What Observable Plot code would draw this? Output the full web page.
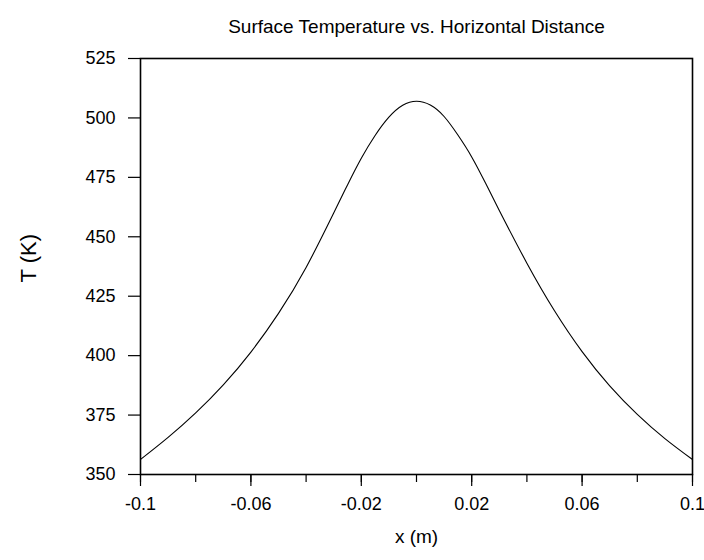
<!DOCTYPE html>
<html>
<head>
<meta charset="utf-8">
<script src="https://cdn.jsdelivr.net/npm/d3@7"></script>
<script src="https://cdn.jsdelivr.net/npm/@observablehq/plot@0.6"></script>
<style>
  html, body { margin: 0; padding: 0; background: #fff; }
  #chart svg { display: block; }
</style>
</head>
<body>
<div id="chart"></div>
<script>
const xPos = [-0.1, -0.09, -0.08, -0.07, -0.06, -0.05, -0.04, -0.03, -0.025, -0.02, -0.015, -0.01, -0.005, 0,
              0.005, 0.01, 0.015, 0.02, 0.025, 0.03, 0.04, 0.05, 0.06, 0.07, 0.08, 0.09, 0.1];
const temp = [356.3, 365.6, 375.9, 387.7, 401.5, 417.8, 437.1, 460.0, 471.8, 483.0, 492.6, 500.3, 505.3, 507.0,
              505.4, 500.6, 492.8, 483.6, 472.6, 461.1, 438.9, 418.9, 401.7, 387.3, 375.3, 365.1, 356.3];
const yTicks = [350, 375, 400, 425, 450, 475, 500, 525];
const xMajorTicks = [-0.1, -0.06, -0.02, 0.02, 0.06, 0.1];
const xMinorTicks = [-0.1, -0.08, -0.06, -0.04, -0.02, 0, 0.02, 0.04, 0.06, 0.08, 0.1];
const titleText = "Surface Temperature vs. Horizontal Distance";
const xLabel = "x (m)";
const yLabel = "T (K)";

const data = xPos.map((x, i) => ({x, t: temp[i]}));
const fmt = d => String(+d.toFixed(3));

const chart = Plot.plot({
  width: 704,
  height: 560,
  marginLeft: 140,
  marginRight: 12,
  marginTop: 58,
  marginBottom: 86,
  style: {fontFamily: "'Liberation Sans', Arial, sans-serif", fontSize: "18px", color: "#000", background: "#fff"},
  x: {domain: [-0.1, 0.1]},
  y: {domain: [350, 525]},
  marks: [
    Plot.axisY({ticks: yTicks, tickSize: 12, tickPadding: 13, tickFormat: d => String(d), label: null, fontSize: 18, stroke: "#000", strokeWidth: 1.2}),
    Plot.axisX({ticks: xMinorTicks, tickSize: 8, tickFormat: () => "", label: null, stroke: "#000", strokeWidth: 1.2}),
    Plot.axisX({ticks: xMajorTicks, tickSize: 12, tickPadding: 11, tickFormat: fmt, label: null, fontSize: 18, stroke: "#000", strokeWidth: 1.2}),
    Plot.line(data, {x: "x", y: "t", stroke: "#000", strokeWidth: 1.1, curve: "natural"}),
    Plot.frame({stroke: "#000", strokeWidth: 1.6}),
    Plot.text([titleText], {frameAnchor: "top", dy: -39, fontSize: 19, fill: "#000"}),
    Plot.text([xLabel], {frameAnchor: "bottom", dy: 68, fontSize: 19, fill: "#000"}),
    Plot.text([yLabel], {frameAnchor: "left", dx: -112, dy: 16, rotate: -90, fontSize: 22, fill: "#000"})
  ]
});
document.getElementById("chart").appendChild(chart);
</script>
</body>
</html>
